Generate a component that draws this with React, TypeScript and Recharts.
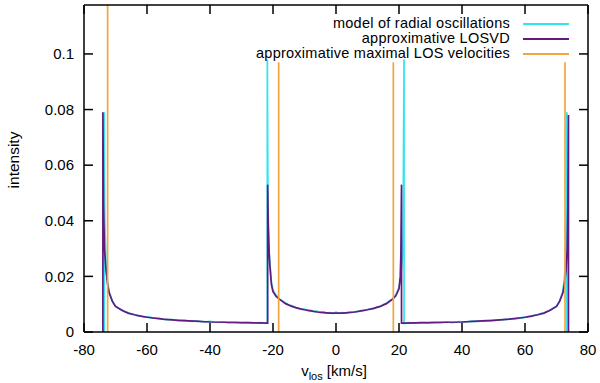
import { LineChart, Line, XAxis, YAxis, Legend, Label } from "recharts";

// velocity [km/s], intensity pairs
const modelPoints: [number, number][] = [
  [-73.6, 0], [-73.6, 0.079], [-73.4, 0.04], [-73, 0.024], [-72.5, 0.018], [-72, 0.0145],
  [-71, 0.0112], [-70, 0.0094], [-69, 0.0085], [-68, 0.008], [-67, 0.0072], [-66, 0.007],
  [-65, 0.0064], [-64, 0.0063], [-63, 0.0058], [-62, 0.0058], [-61, 0.0054], [-60, 0.0055],
  [-58, 0.005], [-56, 0.0049], [-54, 0.0044], [-52, 0.0045], [-50, 0.0041], [-48, 0.0042],
  [-46, 0.0038], [-44, 0.004], [-42, 0.0036], [-40, 0.0038], [-38, 0.0035], [-36, 0.0036],
  [-34, 0.0033], [-32, 0.0035], [-30, 0.0033], [-28, 0.0035], [-26, 0.0032], [-24, 0.0034],
  [-22.5, 0.0031], [-21.8, 0.0033], [-21.8, 0.098], [-21.6, 0.045], [-21.3, 0.03], [-21, 0.025],
  [-20.5, 0.018], [-20, 0.015], [-19, 0.0132], [-18, 0.0119], [-17, 0.0112], [-16, 0.0104],
  [-15, 0.0097], [-14, 0.0095], [-13, 0.0088], [-12, 0.0087], [-11, 0.0081], [-10, 0.0082],
  [-9, 0.0077], [-8, 0.0078], [-7, 0.0073], [-6, 0.0075], [-5, 0.007], [-4, 0.0072],
  [-3, 0.0068], [-2, 0.007], [-1, 0.0066], [0, 0.0071], [1, 0.0067], [2, 0.007],
  [3, 0.0068], [4, 0.0071], [5, 0.0071], [6, 0.0073], [7, 0.0074], [8, 0.0077],
  [9, 0.0078], [10, 0.0081], [11, 0.0083], [12, 0.0085], [13, 0.009], [14, 0.0091],
  [15, 0.0099], [16, 0.0103], [17, 0.0113], [18, 0.012], [19, 0.0134], [20, 0.016],
  [20.5, 0.019], [21, 0.026], [21.3, 0.035], [21.6, 0.098], [21.6, 0.0031], [23, 0.0034],
  [25, 0.0032], [27, 0.0035], [29, 0.0033], [31, 0.0035], [33, 0.0034], [35, 0.0036],
  [37, 0.0034], [39, 0.0037], [41, 0.0036], [43, 0.0039], [45, 0.0038], [47, 0.0041],
  [49, 0.004], [51, 0.0043], [53, 0.0044], [55, 0.0046], [57, 0.0047], [59, 0.0051],
  [61, 0.0055], [62, 0.0056], [63, 0.006], [64, 0.0061], [65, 0.0066], [66, 0.0068],
  [67, 0.0074], [68, 0.0079], [69, 0.0086], [70, 0.0093], [71, 0.0113], [72, 0.0146],
  [72.5, 0.019], [72.9, 0.026], [73.1, 0.04], [73.3, 0.079], [73.3, 0],
];

const losvdPoints: [number, number][] = [
  [-74, 0], [-74, 0.079], [-73.8, 0.045], [-73.5, 0.03], [-73, 0.022], [-72.5, 0.017],
  [-72, 0.014], [-71, 0.011], [-70, 0.0092], [-68, 0.0078], [-66, 0.0068], [-64, 0.0062],
  [-62, 0.0057], [-60, 0.0053], [-55, 0.0046], [-50, 0.0042], [-45, 0.0039], [-40, 0.0036],
  [-35, 0.0035], [-30, 0.0034], [-25, 0.0033], [-21.7, 0.0032], [-21.7, 0.053], [-21.5, 0.038],
  [-21.2, 0.028], [-21, 0.024], [-20.5, 0.017], [-20, 0.0145], [-19, 0.0128], [-18, 0.0118],
  [-16, 0.0102], [-14, 0.0092], [-12, 0.0085], [-10, 0.008], [-8, 0.0076], [-6, 0.0072],
  [-4, 0.007], [-2, 0.0068], [0, 0.0068], [2, 0.0068], [4, 0.007], [6, 0.0072],
  [8, 0.0076], [10, 0.008], [12, 0.0085], [14, 0.0092], [16, 0.0102], [18, 0.0118],
  [19, 0.013], [20, 0.0155], [20.4, 0.02], [20.6, 0.028], [20.8, 0.053], [20.8, 0.0032],
  [22, 0.0032], [25, 0.0033], [30, 0.0034], [35, 0.0035], [40, 0.0036], [45, 0.0039],
  [50, 0.0042], [55, 0.0046], [60, 0.0053], [62, 0.0057], [64, 0.0062], [66, 0.0068],
  [68, 0.0078], [70, 0.0092], [71, 0.011], [72, 0.014], [72.5, 0.017], [73, 0.022],
  [73.4, 0.03], [73.6, 0.045], [73.8, 0.078], [73.8, 0],
];

// approximative maximal LOS velocities (drawn as vertical lines)
const maxVelocities = [-72.5, -18.2, 18.2, 72.7];
const maxVelocityTops = [0.13, 0.097, 0.097, 0.097];

const xTicks = [-80, -60, -40, -20, 0, 20, 40, 60, 80];
const yTicks = [0, 0.02, 0.04, 0.06, 0.08, 0.1];

const CYAN = "#30e4f0";
const PURPLE = "#631a7e";
const ORANGE = "#f2a540";
const FONT = "'Liberation Sans', Arial, Helvetica, sans-serif";

const toRows = (pts: [number, number][]) => pts.map(([v, y]) => ({ v, y }));

const modelData = toRows(modelPoints);
const losvdData = toRows(losvdPoints);
const maxVelData: { v: number; y: number | null }[] = [];
maxVelocities.forEach((v, i) => {
  maxVelData.push({ v, y: 0 }, { v, y: maxVelocityTops[i] }, { v, y: null });
});

const legendItems = [
  { label: "model of radial oscillations", color: CYAN },
  { label: "approximative LOSVD", color: PURPLE },
  { label: "approximative maximal LOS velocities", color: ORANGE },
];

const renderLegend = () => (
  <div style={{ position: "relative", width: 600, height: 45, fontFamily: FONT, fontSize: 14.5, color: "#000" }}>
    {legendItems.map((it, i) => (
      <div key={it.label}>
        <div
          style={{
            position: "absolute",
            right: 90,
            top: i * 15,
            height: 15,
            lineHeight: "15px",
            letterSpacing: 0.25,
            whiteSpace: "nowrap",
          }}
        >
          {it.label}
        </div>
        <div style={{ position: "absolute", left: 523, top: i * 15 + 7, width: 46, height: 2, background: it.color }} />
      </div>
    ))}
  </div>
);

const tickStyle = { fontSize: 15, fill: "#000", fontFamily: FONT };
const axisStroke = { stroke: "#000", strokeWidth: 1.5 };

export default function App() {
  return (
    <div style={{ position: "absolute", left: 0, top: 0, width: 600, height: 383, background: "#fff" }}>
      <LineChart width={600} height={383} margin={{ top: 0, right: 0, bottom: 21, left: 24 }}>
        <XAxis
          xAxisId="b"
          type="number"
          dataKey="v"
          domain={[-80, 80]}
          ticks={xTicks}
          interval={0}
          allowDataOverflow
          height={30}
          tickSize={-9}
          tickMargin={21}
          tick={tickStyle}
          axisLine={axisStroke}
          tickLine={axisStroke}
        >
          <Label
            content={() => (
              <text x={334} y={376} textAnchor="middle" fontFamily={FONT} fontSize={15} fill="#000">
                v<tspan dy={4} fontSize={11}>los</tspan>
                <tspan dy={-4}> [km/s]</tspan>
              </text>
            )}
          />
        </XAxis>
        <XAxis
          xAxisId="t"
          orientation="top"
          type="number"
          dataKey="v"
          domain={[-80, 80]}
          ticks={xTicks}
          interval={0}
          allowDataOverflow
          height={5}
          tickSize={-9}
          tickFormatter={() => ""}
          axisLine={axisStroke}
          tickLine={axisStroke}
        />
        <YAxis
          yAxisId="l"
          type="number"
          domain={[0, 0.1176]}
          ticks={yTicks}
          interval={0}
          allowDataOverflow
          width={60}
          tickSize={-9}
          tickMargin={19}
          tick={tickStyle}
          tickFormatter={(t: number) => String(t)}
          axisLine={axisStroke}
          tickLine={axisStroke}
        >
          <Label
            content={() => (
              <text
                x={13}
                y={160}
                transform="rotate(-90 13 160)"
                textAnchor="middle"
                dominantBaseline="central"
                fontFamily={FONT}
                fontSize={15.5}
                fill="#000"
              >
                intensity
              </text>
            )}
          />
        </YAxis>
        <YAxis
          yAxisId="r"
          orientation="right"
          type="number"
          domain={[0, 0.1176]}
          ticks={yTicks}
          interval={0}
          allowDataOverflow
          width={12}
          tickSize={-9}
          tickFormatter={() => ""}
          axisLine={axisStroke}
          tickLine={axisStroke}
        />
        <Legend
          layout="vertical"
          align="center"
          verticalAlign="middle"
          content={renderLegend}
          wrapperStyle={{ top: 15.5, left: 0, width: 600 }}
        />
        <Line
          xAxisId="b"
          yAxisId="l"
          data={modelData}
          dataKey="y"
          name="model of radial oscillations"
          stroke={CYAN}
          strokeWidth={1.7}
          dot={false}
          activeDot={false}
          isAnimationActive={false}
        />
        <Line
          xAxisId="b"
          yAxisId="l"
          data={losvdData}
          dataKey="y"
          name="approximative LOSVD"
          stroke={PURPLE}
          strokeWidth={1.7}
          dot={false}
          activeDot={false}
          isAnimationActive={false}
        />
        <Line
          xAxisId="b"
          yAxisId="l"
          data={maxVelData}
          dataKey="y"
          name="approximative maximal LOS velocities"
          stroke={ORANGE}
          strokeWidth={1.7}
          dot={false}
          activeDot={false}
          connectNulls={false}
          isAnimationActive={false}
        />
      </LineChart>
    </div>
  );
}
